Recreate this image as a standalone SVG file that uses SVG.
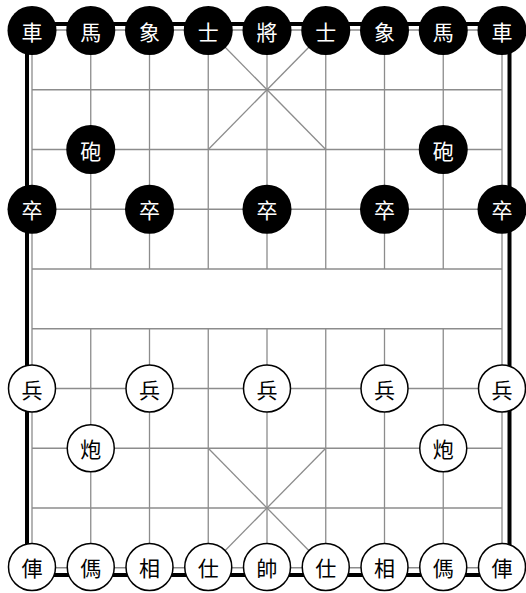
<svg xmlns="http://www.w3.org/2000/svg" width="526" height="593" viewBox="0 0 526 593">
<style>
.g{stroke:#8c8c8c;stroke-width:1.3;fill:none}
.b{stroke:#000;stroke-width:4;fill:none}
.pc text{font-family:"Noto Sans CJK TC","Noto Sans CJK SC",sans-serif;font-size:21px;text-anchor:middle;dominant-baseline:central}
.blk circle{fill:#000}
.blk text{fill:#fff}
.red circle{fill:#fff;stroke:#000;stroke-width:1.5}
.red text{fill:#000}
</style>
<rect width="526" height="593" fill="#fff"/>
<g id="board">
<rect class="b" x="27" y="24" width="482.5" height="551"/>
<g class="g">
<line x1="32" y1="30" x2="502" y2="30"/>
<line x1="32" y1="89.75" x2="502" y2="89.75"/>
<line x1="32" y1="149.5" x2="502" y2="149.5"/>
<line x1="32" y1="209.25" x2="502" y2="209.25"/>
<line x1="32" y1="269" x2="502" y2="269"/>
<line x1="32" y1="328.75" x2="502" y2="328.75"/>
<line x1="32" y1="388.5" x2="502" y2="388.5"/>
<line x1="32" y1="448.25" x2="502" y2="448.25"/>
<line x1="32" y1="508" x2="502" y2="508"/>
<line x1="32" y1="567.75" x2="502" y2="567.75"/>
<line x1="32" y1="30" x2="32" y2="567.75"/>
<line x1="502" y1="30" x2="502" y2="567.75"/>
<line x1="90.75" y1="30" x2="90.75" y2="269"/>
<line x1="149.5" y1="30" x2="149.5" y2="269"/>
<line x1="208.25" y1="30" x2="208.25" y2="269"/>
<line x1="267" y1="30" x2="267" y2="269"/>
<line x1="325.75" y1="30" x2="325.75" y2="269"/>
<line x1="384.5" y1="30" x2="384.5" y2="269"/>
<line x1="443.25" y1="30" x2="443.25" y2="269"/>
<line x1="90.75" y1="328.75" x2="90.75" y2="567.75"/>
<line x1="149.5" y1="328.75" x2="149.5" y2="567.75"/>
<line x1="208.25" y1="328.75" x2="208.25" y2="567.75"/>
<line x1="267" y1="328.75" x2="267" y2="567.75"/>
<line x1="325.75" y1="328.75" x2="325.75" y2="567.75"/>
<line x1="384.5" y1="328.75" x2="384.5" y2="567.75"/>
<line x1="443.25" y1="328.75" x2="443.25" y2="567.75"/>
<line x1="208.25" y1="30" x2="325.75" y2="149.5"/>
<line x1="325.75" y1="30" x2="208.25" y2="149.5"/>
<line x1="208.25" y1="448.25" x2="325.75" y2="567.75"/>
<line x1="325.75" y1="448.25" x2="208.25" y2="567.75"/>
</g>
</g>
<g class="pc blk">
<g id="b_ju1" transform="translate(32,30.5)"><circle r="24.5"/><text>車</text></g>
<g id="b_ma1" transform="translate(90.75,30.5)"><circle r="24.5"/><text>馬</text></g>
<g id="b_xiang1" transform="translate(149.5,30.5)"><circle r="24.5"/><text>象</text></g>
<g id="b_shi1" transform="translate(208.25,30.5)"><circle r="24.5"/><text>士</text></g>
<g id="b_jiang" transform="translate(267,30.5)"><circle r="24.5"/><text>將</text></g>
<g id="b_shi2" transform="translate(325.75,30.5)"><circle r="24.5"/><text>士</text></g>
<g id="b_xiang2" transform="translate(384.5,30.5)"><circle r="24.5"/><text>象</text></g>
<g id="b_ma2" transform="translate(443.25,30.5)"><circle r="24.5"/><text>馬</text></g>
<g id="b_ju2" transform="translate(502,30.5)"><circle r="24.5"/><text>車</text></g>
<g id="b_pao1" transform="translate(90.75,149.5)"><circle r="24.5"/><text>砲</text></g>
<g id="b_pao2" transform="translate(443.25,149.5)"><circle r="24.5"/><text>砲</text></g>
<g id="b_zu1" transform="translate(32,209.25)"><circle r="24.5"/><text>卒</text></g>
<g id="b_zu2" transform="translate(149.5,209.25)"><circle r="24.5"/><text>卒</text></g>
<g id="b_zu3" transform="translate(267,209.25)"><circle r="24.5"/><text>卒</text></g>
<g id="b_zu4" transform="translate(384.5,209.25)"><circle r="24.5"/><text>卒</text></g>
<g id="b_zu5" transform="translate(502,209.25)"><circle r="24.5"/><text>卒</text></g>
</g>
<g class="pc red">
<g id="r_bing1" transform="translate(32,388.5)"><circle r="23.5"/><text>兵</text></g>
<g id="r_bing2" transform="translate(149.5,388.5)"><circle r="23.5"/><text>兵</text></g>
<g id="r_bing3" transform="translate(267,388.5)"><circle r="23.5"/><text>兵</text></g>
<g id="r_bing4" transform="translate(384.5,388.5)"><circle r="23.5"/><text>兵</text></g>
<g id="r_bing5" transform="translate(502,388.5)"><circle r="23.5"/><text>兵</text></g>
<g id="r_pao1" transform="translate(90.75,448.25)"><circle r="23.5"/><text>炮</text></g>
<g id="r_pao2" transform="translate(443.25,448.25)"><circle r="23.5"/><text>炮</text></g>
<g id="r_ju1" transform="translate(32,567)"><circle r="23.5"/><text>俥</text></g>
<g id="r_ma1" transform="translate(90.75,567)"><circle r="23.5"/><text>傌</text></g>
<g id="r_xiang1" transform="translate(149.5,567)"><circle r="23.5"/><text>相</text></g>
<g id="r_shi1" transform="translate(208.25,567)"><circle r="23.5"/><text>仕</text></g>
<g id="r_shuai" transform="translate(267,567)"><circle r="23.5"/><text>帥</text></g>
<g id="r_shi2" transform="translate(325.75,567)"><circle r="23.5"/><text>仕</text></g>
<g id="r_xiang2" transform="translate(384.5,567)"><circle r="23.5"/><text>相</text></g>
<g id="r_ma2" transform="translate(443.25,567)"><circle r="23.5"/><text>傌</text></g>
<g id="r_ju2" transform="translate(502,567)"><circle r="23.5"/><text>俥</text></g>
</g>
</svg>
